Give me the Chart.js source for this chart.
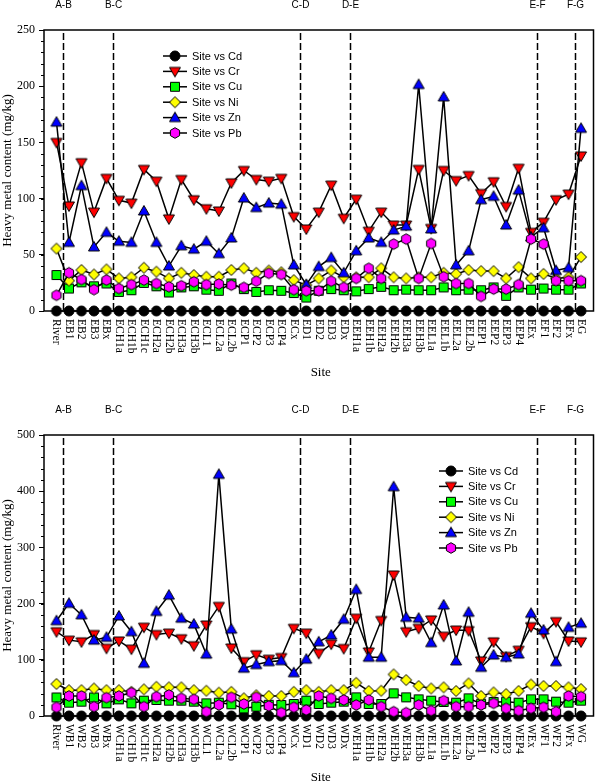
<!DOCTYPE html>
<html>
<head>
<meta charset="utf-8">
<script src="https://cdn.jsdelivr.net/npm/chart.js@4.4.1/dist/chart.umd.min.js"></script>
<style>
  html, body { margin: 0; padding: 0; background: #fff; }
  canvas { display: block; }
</style>
</head>
<body>
<canvas id="eastChart" width="600" height="391"></canvas>
<canvas id="westChart" width="600" height="391"></canvas>
<script>
// site names (east transect on top, west transect below)
let sitesEast = ['River','EB1','EB2','EB3','EBx','ECH1a','ECH1b','ECH1c','ECH2a','ECH2b','ECH3a','ECH3b','ECL1','ECL2a','ECL2b','ECP1','ECP2','ECP3','ECP4','ECx','ED1','ED2','ED3','EDx','EEH1a','EEH1b','EEH2a','EEH2b','EEH3a','EEH3b','EEL1a','EEL1b','EEL2a','EEL2b','EEP1','EEP2','EEP3','EEP4','EEx','EF1','EF2','EFx','EG'];
let sitesWest = ['River','WB1','WB2','WB3','WBx','WCH1a','WCH1b','WCH1c','WCH2a','WCH2b','WCH3a','WCH3b','WCL1','WCL2a','WCL2b','WCP1','WCP2','WCP3','WCP4','WCx','WD1','WD2','WD3','WDx','WEH1a','WEH1b','WEH2a','WEH2b','WEH3a','WEH3b','WEL1a','WEL1b','WEL2a','WEL2b','WEP1','WEP2','WEP3','WEP4','WEx','WF1','WF2','WFx','WG'];

// section boundaries, between sites
let sectionPos = [0.5, 4.5, 19.5, 23.5, 38.5, 41.5];
let sectionLabels = ['A-B', 'B-C', 'C-D', 'D-E', 'E-F', 'F-G'];

// east values (mg/kg)
let cdEast = [0,0,0,0,0,0,0,0,0,0,0,0,0,0,0,0,0,0,0,0,0,0,0,0,0,0,0,0,0,0,0,0,0,0,0,0,0,0,0,0,0,0,0];
let crEast = [150,93.5,132,88,118,98.5,96,126,115.5,82,117,99,91,89,114,125,117,115.5,118,84,73,88,112,82.5,99.5,71,88,76.5,76.5,126,73.5,125,116,120.5,104.5,115,93,127,70,79,99,104,138];
let cuEast = [32,20,25.5,22,24.5,17,18.5,25,22,16.5,21,22,19,18,24.5,19.5,17,18.5,18,16,12,18,19.5,18.5,17.5,19.5,21.5,18.5,19,18.5,18.5,21,18.5,19,18.5,21,13.5,21,19,20,19,19,24.5];
let niEast = [55.5,27,36.5,32.5,37,29,30,38.5,35,29,34,32,30.5,30.5,36.5,38,34,36,34.5,27.5,23,29,36,30,30,30,38,30,29,30,30,34,33,36.5,35.5,35.5,29,39,29,33,29,30,48];
let znEast = [168,61,111.5,57,70,62,61,89,61,40,58,55,62,51,65,100.5,92,96,95,41,23.5,39.5,47.5,34,53.5,65,61,72,75.5,201.5,73,190.5,41,53.5,99,102,76.5,107.5,66,74,36,38.5,162.5];
let pbEast = [14,34,28,19,27.5,20,23.5,27.5,24.5,21.5,22.5,26,23.5,24,23,21,26.5,33.5,32.5,19,18,18,26.5,21,29,38,29,59.5,64,29,60,30.5,24.5,24.5,13,19.5,19.5,23.5,64,59.5,27,27,27];

// west values (mg/kg)
let cdWest = [0,0,0,0,0,0,0,0,0,0,0,0,0,0,0,0,0,0,0,0,0,0,0,0,0,0,0,0,0,0,0,0,0,0,0,0,0,0,0,0,0,0,0];
let crWest = [150,135,132,145,120.5,133.5,119,158,145,147.5,137.5,125,162,195,121,96.7,109,101,104,156,147.5,111.5,128,120,174,114,170,251,150,156,171,142,153,152,98,132,106,117,159,147,168,133.5,132];
let cuWest = [33,23.7,25.5,33,22.5,29.6,22.5,27.3,28.5,27.3,27.3,25.5,22.5,23.7,20.8,13.6,16.6,20,19.6,21.4,27.3,21.4,23.7,25.5,33.2,21.4,21.4,40.3,33.2,29.6,27.3,25,23.7,31.4,22,25,25.5,23.7,29.6,29.6,25.5,23.7,27.3];
let niWest = [57,46,46,49,46,46,43,47.4,52,51,51,46,45,41.5,43,31.5,37,35.6,35.6,43,46,43,46,46,59,44.5,45,74,64,53.4,49,51,44.5,58,35.6,42,39,44.5,56,53.4,53.4,51,48];
let znWest = [169.5,200.5,180,135,140,178,150,93.7,186,215,174,163.5,110,430,154.5,85,91.5,96.7,98.5,77,101,132,144,172,225,104.5,104.5,408,175.5,174,130.5,197.5,98,184.5,86.6,108.5,104.5,110.3,182.7,153,96.7,157.8,165];
let pbWest = [15.4,35.6,35.6,16.6,32.6,35.6,41.5,16.6,34.4,37.4,31.4,29.6,7.7,19.6,33.2,21.4,33.2,17.8,5.9,15.4,10.7,35.6,31.4,28.5,19.6,28.5,16.6,7.7,5.9,19.6,9.5,27.3,16.6,16.6,19.6,22.5,13.6,9.5,13.6,15.4,7.7,35.6,34.4];

let seriesNames = ['Site vs Cd', 'Site vs Cr', 'Site vs Cu', 'Site vs Ni', 'Site vs Zn', 'Site vs Pb'];

// marker symbols drawn once on small canvases, used as pointStyle
function makeMarker(shape, fill) {
    let c = document.createElement('canvas');
    c.width = 14; c.height = 14;
    let g = c.getContext('2d');
    let m = 7;
    g.beginPath();
    if (shape === 'circle') {
        g.arc(m, m, 5, 0, Math.PI * 2);
    } else if (shape === 'down') {
        g.moveTo(m - 5.5, m - 4); g.lineTo(m + 5.5, m - 4); g.lineTo(m, m + 5.5);
    } else if (shape === 'up') {
        g.moveTo(m - 5.5, m + 4); g.lineTo(m + 5.5, m + 4); g.lineTo(m, m - 5.5);
    } else if (shape === 'square') {
        g.rect(m - 4.5, m - 4.5, 9, 9);
    } else if (shape === 'diamond') {
        g.moveTo(m, m - 5.5); g.lineTo(m + 5.5, m); g.lineTo(m, m + 5.5); g.lineTo(m - 5.5, m);
    } else if (shape === 'hexagon') {
        for (let k = 0; k < 6; k++) {
            let a = Math.PI / 2 + k * Math.PI / 3;
            g.lineTo(m + 5.3 * Math.cos(a), m + 5.3 * Math.sin(a));
        }
    }
    g.closePath();
    g.fillStyle = fill;
    g.fill();
    g.lineWidth = 1;
    g.strokeStyle = '#000';
    g.stroke();
    return c;
}

let markers = [
    makeMarker('circle', '#000000'),
    makeMarker('down', '#ff0000'),
    makeMarker('square', '#00ff00'),
    makeMarker('diamond', '#ffff00'),
    makeMarker('up', '#0000ff'),
    makeMarker('hexagon', '#ff00ff')
];

// frame, minor ticks, section lines, rotated site labels and legend
const panelPlugin = {
    id: 'panelPlugin',
    beforeDatasetsDraw(chart, args, opts) {
        let ctx = chart.ctx;
        let area = chart.chartArea;
        let xs = chart.scales.x;
        let ys = chart.scales.y;
        ctx.save();
        ctx.strokeStyle = '#000';
        ctx.lineWidth = 1;
        for (let v = 0; v <= ys.max; v += opts.minor) {
            let py = Math.round(ys.getPixelForValue(v)) + 0.5;
            ctx.beginPath();
            ctx.moveTo(area.left - 3, py);
            ctx.lineTo(area.left, py);
            ctx.stroke();
        }
        ctx.lineWidth = 1.5;
        ctx.setLineDash([7, 3]);
        ctx.fillStyle = '#000';
        ctx.font = '10px "Liberation Sans", Arial, sans-serif';
        ctx.textAlign = 'center';
        ctx.textBaseline = 'middle';
        sectionPos.forEach((p, i) => {
            let px = Math.round(xs.getPixelForValue(p)) + 0.5;
            ctx.beginPath();
            ctx.moveTo(px, area.top + 3);
            ctx.lineTo(px, area.bottom);
            ctx.stroke();
            ctx.fillText(sectionLabels[i], px, area.top - 25);
        });
        ctx.setLineDash([]);
        ctx.lineWidth = 1.5;
        ctx.strokeRect(area.left, area.top, area.right - area.left, area.bottom - area.top);
        ctx.restore();
    },
    afterDraw(chart, args, opts) {
        let ctx = chart.ctx;
        let area = chart.chartArea;
        let xs = chart.scales.x;
        ctx.save();
        ctx.fillStyle = '#000';
        // site labels read top to bottom
        ctx.font = '11.5px "Liberation Serif", "Times New Roman", serif';
        ctx.textAlign = 'left';
        ctx.textBaseline = 'middle';
        opts.sites.forEach((s, i) => {
            ctx.save();
            ctx.translate(xs.getPixelForValue(i), area.bottom + 8);
            ctx.rotate(Math.PI / 2);
            ctx.fillText(s, 0, 0);
            ctx.restore();
        });
        ctx.font = '13px "Liberation Serif", "Times New Roman", serif';
        ctx.textAlign = 'center';
        ctx.fillText('Site', (area.left + area.right) / 2 + 2, area.bottom + 62);
        // legend
        ctx.font = '11px "Liberation Sans", Arial, sans-serif';
        ctx.textAlign = 'left';
        seriesNames.forEach((name, i) => {
            let ly = opts.legendY + i * 15.4;
            ctx.strokeStyle = '#000';
            ctx.lineWidth = 1.5;
            ctx.beginPath();
            ctx.moveTo(opts.legendX, ly);
            ctx.lineTo(opts.legendX + 24, ly);
            ctx.stroke();
            ctx.drawImage(markers[i], opts.legendX + 12 - 7, ly - 7);
            ctx.fillText(name, opts.legendX + 29, ly + 0.5);
        });
        ctx.restore();
    }
};

function makeDatasets(values) {
    return values.map((vals, i) => ({
        label: seriesNames[i],
        data: vals.map((v, k) => ({ x: k, y: v })),
        borderColor: '#000',
        borderWidth: 1.5,
        pointStyle: markers[i],
        pointRadius: 5,
        pointHoverRadius: 5,
        clip: false,
        order: 6 - i
    }));
}

function createPanel(canvasId, sites, values, yMax, yStep, yMinor, padTop, xHeight, legendX, legendY) {
    let ctx = document.getElementById(canvasId).getContext('2d');
    return new Chart(ctx, {
        type: 'line',
        data: { datasets: makeDatasets(values) },
        options: {
            responsive: false,
            animation: false,
            devicePixelRatio: 1,
            layout: { padding: { top: padTop, right: 3, bottom: 0, left: 0 } },
            plugins: {
                legend: { display: false },
                tooltip: { enabled: false },
                panelPlugin: { sites: sites, minor: yMinor, legendX: legendX, legendY: legendY }
            },
            scales: {
                x: {
                    type: 'linear',
                    min: -1,
                    max: 43,
                    grid: { display: false },
                    border: { display: false },
                    ticks: { display: false },
                    afterFit: s => { s.height = xHeight; }
                },
                y: {
                    min: 0,
                    max: yMax,
                    ticks: {
                        stepSize: yStep,
                        color: '#000',
                        padding: 4,
                        font: { family: '"Liberation Serif", "Times New Roman", serif', size: 12 }
                    },
                    grid: { drawOnChartArea: false, drawTicks: true, tickLength: 5, color: '#000', lineWidth: 1 },
                    border: { display: false },
                    title: {
                        display: true,
                        text: 'Heavy metal content (mg/kg)',
                        color: '#000',
                        padding: 0,
                        font: { family: '"Liberation Serif", "Times New Roman", serif', size: 13 }
                    },
                    afterFit: s => { s.width = 44; }
                }
            }
        },
        plugins: [panelPlugin]
    });
}

createPanel('eastChart', sitesEast, [cdEast, crEast, cuEast, niEast, znEast, pbEast], 250, 50, 10, 30, 80, 163, 56);
createPanel('westChart', sitesWest, [cdWest, crWest, cuWest, niWest, znWest, pbWest], 500, 100, 20, 44, 66, 439, 80);
</script>
</body>
</html>
